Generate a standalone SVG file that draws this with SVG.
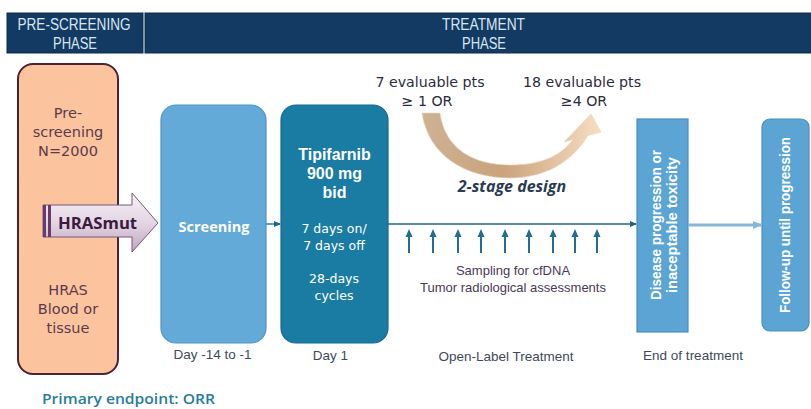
<svg xmlns="http://www.w3.org/2000/svg" width="811" height="409" viewBox="0 0 811 409">
<style>
.hdr{fill:#133a63;stroke:#0d2b4a;stroke-width:1}
.ht{font-family:"Liberation Sans",Arial,sans-serif;font-size:16px;fill:#d9e6f1;text-anchor:middle}
.os{font-family:"Open Sans","DejaVu Sans",sans-serif}
.dv{font-family:"DejaVu Sans","Open Sans",sans-serif}
.ar{font-family:"Liberation Sans",Arial,sans-serif}
.w{fill:#ffffff}
.mid{text-anchor:middle}
.lbl{font-size:13.5px;fill:#3e4a5a}
.up{stroke:#216f8e;stroke-width:2;fill:none;marker-end:url(#upHead)}
</style>
<defs>
<marker id="upHead" markerWidth="8" markerHeight="8" refX="4" refY="4" orient="auto" markerUnits="userSpaceOnUse" viewBox="0 0 8 8"><path d="M0,0.5 L8,4 L0,7.5 Z" fill="#216f8e"/></marker>
<marker id="tealHead" markerWidth="7" markerHeight="7" refX="6" refY="3.5" orient="auto" markerUnits="userSpaceOnUse" viewBox="0 0 7 7"><path d="M0,0.5 L7,3.5 L0,6.5 Z" fill="#1f6384"/></marker>
<marker id="lightHead" markerWidth="9" markerHeight="9" refX="8" refY="4.5" orient="auto" markerUnits="userSpaceOnUse" viewBox="0 0 9 9"><path d="M0,0.5 L9,4.5 L0,8.5 Z" fill="#86b7d8"/></marker>
<linearGradient id="hrasG" x1="0" y1="0" x2="0" y2="1">
<stop offset="0" stop-color="#f6f0f6"/><stop offset="0.5" stop-color="#e4d6e4"/><stop offset="1" stop-color="#bea6bf"/>
</linearGradient>
<linearGradient id="curveG" x1="0" y1="0" x2="1" y2="0">
<stop offset="0" stop-color="#cdb294"/><stop offset="0.45" stop-color="#caa37c"/><stop offset="1" stop-color="#f7dec4"/>
</linearGradient>
</defs>

<g id="header-prescreening">
<rect class="hdr" x="7" y="13" width="136" height="40"/>
<text class="ht" x="74" y="30" textLength="113" lengthAdjust="spacingAndGlyphs">PRE-SCREENING</text>
<text class="ht" x="75" y="49" textLength="44" lengthAdjust="spacingAndGlyphs">PHASE</text>
</g>
<g id="header-treatment">
<rect class="hdr" x="145" y="13" width="667" height="40"/>
<text class="ht" x="483.5" y="30" textLength="83" lengthAdjust="spacingAndGlyphs">TREATMENT</text>
<text class="ht" x="484" y="49" textLength="44" lengthAdjust="spacingAndGlyphs">PHASE</text>
</g>

<g id="prescreening">
<rect x="18" y="64" width="100" height="310" rx="15" fill="#fbc49f" stroke="#4a2335" stroke-width="2"/>
<g class="dv mid" font-size="14.5" fill="#5b3a4c">
<text x="68" y="118">Pre-</text>
<text x="68" y="137">screening</text>
<text x="68" y="156">N=2000</text>
<text x="68" y="295">HRAS</text>
<text x="68" y="314">Blood or</text>
<text x="68" y="333">tissue</text>
</g>
</g>

<g id="hrasmut">
<path d="M43,205 L132,205 L132,193 L158,223 L132,252 L132,237 L43,237 Z" fill="url(#hrasG)" stroke="#76577a" stroke-width="1"/>
<rect x="43" y="205" width="3" height="32" fill="#6a3a6a"/>
<rect x="48" y="205" width="3" height="32" fill="#6a3a6a"/>
<text class="os" x="58" y="229" font-size="16.7" font-weight="700" fill="#3b1a3d">HRASmut</text>
</g>

<g id="screening">
<rect x="161" y="105" width="105" height="238" rx="15" fill="#63aad8" stroke="#4f95c4" stroke-width="1.2"/>
<text class="os w mid" x="214" y="232" font-size="14.5" font-weight="700">Screening</text>
</g>

<g id="tipifarnib">
<rect x="281" y="105" width="107" height="238" rx="15" fill="#1a7ca3" stroke="#146a8e" stroke-width="1.2"/>
<g class="ar w mid" font-size="16" font-weight="700">
<text x="334.5" y="160">Tipifarnib</text>
<text x="334.5" y="179">900 mg</text>
<text x="334.5" y="198">bid</text>
</g>
<g class="dv w mid" font-size="12.5">
<text x="334" y="233">7 days on/</text>
<text x="334" y="250">7 days off</text>
<text x="334" y="283">28-days</text>
<text x="334" y="300">cycles</text>
</g>
</g>

<g id="two-stage">
<path d="M422,113 C428,155 465,178 510,178 C545,178 572,162 588,135.5 L601,132 L591,114 L564,142 L573,139.5 C560,157 540,165 510,165 C475,165 445,150 440,113 Z" fill="url(#curveG)" stroke="#e9d4bc" stroke-width="0.6"/>
<g class="dv mid" font-size="14.2" fill="#2c2c3c">
<text x="430" y="87">7 evaluable pts</text>
<text x="427" y="106">≥ 1 OR</text>
<text x="582" y="87">18 evaluable pts</text>
<text x="584" y="106">≥4 OR</text>
</g>
<text class="os mid" x="512" y="192" font-size="16" font-weight="700" font-style="italic" fill="#2a3a50">2-stage design</text>
</g>

<g id="sampling">
<g class="ar mid" font-size="13" fill="#4a3858">
<text x="513" y="275">Sampling for cfDNA</text>
<text x="513" y="292">Tumor radiological assessments</text>
</g>
</g>

<g id="end-of-treatment">
<rect x="637" y="119" width="51" height="213" fill="#5ba4d4" stroke="#4a8fc0" stroke-width="1.2"/>
<g class="ar w mid" font-size="14" font-weight="700">
<text transform="translate(662,225) rotate(-90)" y="-1" textLength="150" lengthAdjust="spacingAndGlyphs">Disease progression or</text>
<text transform="translate(662,225) rotate(-90)" y="15" textLength="136" lengthAdjust="spacingAndGlyphs">inaceptable toxicity</text>
</g>
</g>

<g id="follow-up">
<rect x="762" y="119" width="47" height="212" rx="8" fill="#5ba4d4" stroke="#4a8fc0" stroke-width="1.2"/>
<text class="ar w mid" transform="translate(790,225) rotate(-90)" font-size="14" font-weight="700" textLength="176" lengthAdjust="spacingAndGlyphs">Follow-up until progression</text>
</g>

<g id="connectors">
<line x1="266" y1="224" x2="280" y2="224" stroke="#2a7fa8" stroke-width="1.5" marker-end="url(#tealHead)"/>
<line x1="388" y1="224" x2="636" y2="224" stroke="#1f6384" stroke-width="1.6" marker-end="url(#tealHead)"/>
<line x1="688" y1="225" x2="761" y2="225" stroke="#86b7d8" stroke-width="3" marker-end="url(#lightHead)"/>
<line class="up" x1="409" y1="253" x2="409" y2="233"/>
<line class="up" x1="433" y1="253" x2="433" y2="233"/>
<line class="up" x1="458" y1="253" x2="458" y2="233"/>
<line class="up" x1="481" y1="253" x2="481" y2="233"/>
<line class="up" x1="505" y1="253" x2="505" y2="233"/>
<line class="up" x1="529" y1="253" x2="529" y2="233"/>
<line class="up" x1="553" y1="253" x2="553" y2="233"/>
<line class="up" x1="575" y1="253" x2="575" y2="233"/>
<line class="up" x1="597" y1="253" x2="597" y2="233"/>
</g>

<g id="labels" class="ar lbl mid">
<text x="212.5" y="359">Day -14 to -1</text>
<text x="330.5" y="360">Day 1</text>
<text x="506" y="361">Open-Label Treatment</text>
<text x="693" y="360">End of treatment</text>
</g>

<text class="os" x="42" y="404" font-size="14" font-weight="600" fill="#2a7c9c" textLength="173" lengthAdjust="spacingAndGlyphs">Primary endpoint: ORR</text>
</svg>
